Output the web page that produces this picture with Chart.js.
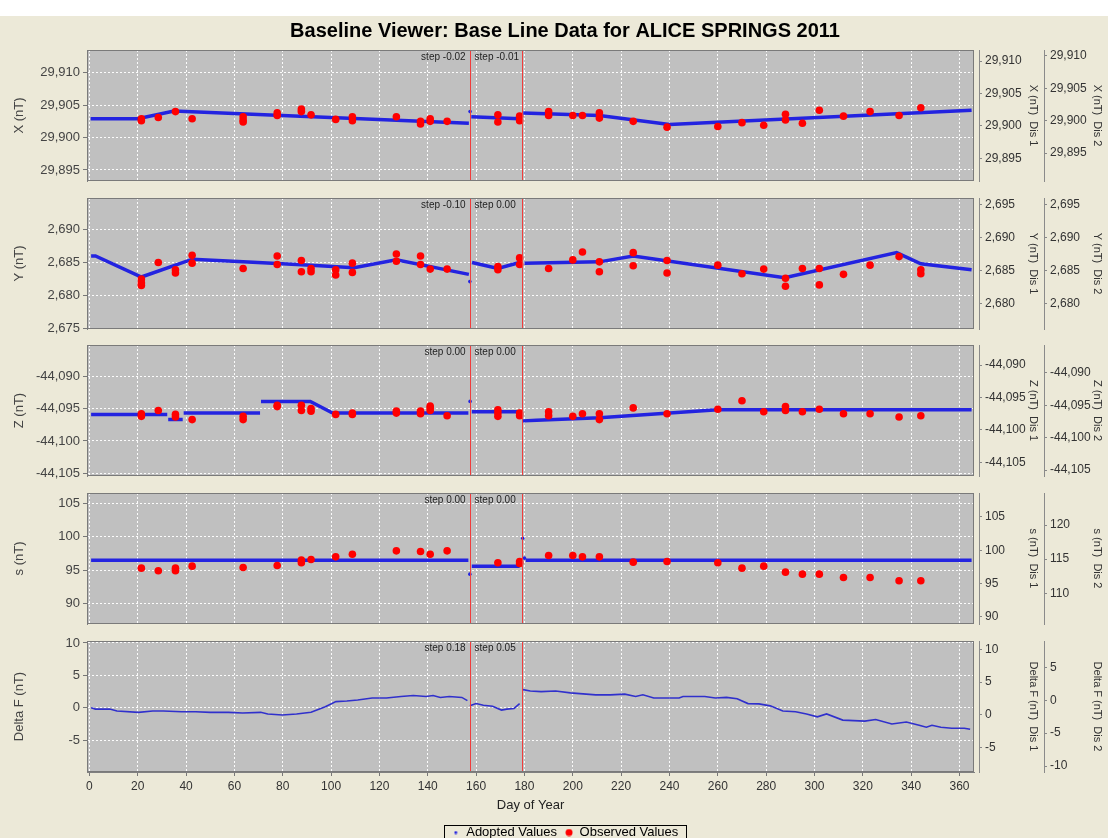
<!DOCTYPE html>
<html>
<head>
<meta charset="utf-8">
<title>Baseline Viewer</title>
<script src="https://cdn.jsdelivr.net/npm/chart.js@4.4.0/dist/chart.umd.min.js"></script>
<style>
  html, body { margin: 0; padding: 0; overflow: hidden; }
  body { width: 1108px; height: 838px; background: #ece9d8; position: relative; }
  #strip { position: absolute; left: 0; top: 0; width: 1108px; height: 16px; background: #fff; }
  canvas { position: absolute; left: 0; }
</style>
</head>
<body>
<div id="strip"></div>
<script>
// ---- data ----
const chartTitle = 'Baseline Viewer: Base Line Data for ALICE SPRINGS 2011';
const breakDays = [157.3, 178.9];
const stepLeft = ['step -0.02', 'step -0.10', 'step 0.00', 'step 0.00', 'step 0.18'];
const stepRight = ['step -0.01', 'step 0.00', 'step 0.00', 'step 0.00', 'step 0.05'];
const axisNames = ['X (nT)', 'Y (nT)', 'Z (nT)', 's (nT)', 'Delta F (nT)'];
const legendNames = ['Adopted Values', 'Observed Values'];

// X
const xAdoptDays = [0.5, 20, 35, 157, 157.2, 158, 178, 178.8, 179.5, 211, 240, 365];
const xAdoptVals = [29902.9, 29902.9, 29904.1, 29902.2, null, 29903.2, 29902.9, null, 29903.8, 29903.4, 29902.0, 29904.2];
const xDotDays = [157.5];
const xDotVals = [29904.0];
const xObsDays = [21.5, 21.5, 28.5, 35.6, 42.5, 63.6, 63.6, 63.6, 77.7, 77.7, 87.7, 87.7, 91.7, 101.9, 108.8, 108.8, 127, 137, 137, 141, 141, 148, 169, 169, 178, 178, 190, 190, 200, 204, 211, 211, 225, 239, 260, 270, 279, 288, 288, 295, 302, 312, 323, 335, 344];
const xObsVals = [29902.9, 29902.6, 29903.1, 29904.0, 29902.9, 29903.2, 29902.7, 29902.4, 29903.8, 29903.4, 29904.4, 29904.0, 29903.5, 29902.8, 29903.2, 29902.6, 29903.2, 29902.5, 29902.1, 29902.9, 29902.5, 29902.5, 29903.5, 29902.4, 29903.3, 29902.6, 29904.0, 29903.4, 29903.4, 29903.4, 29903.8, 29903.0, 29902.5, 29901.6, 29901.7, 29902.3, 29901.9, 29903.6, 29902.7, 29902.2, 29904.2, 29903.3, 29904.0, 29903.4, 29904.6];

// Y
const yAdoptDays = [0.7, 2.5, 21.5, 42.6, 63.6, 91.7, 109.5, 127, 157, 157.5, 158.3, 169, 178, 179, 180, 211, 225, 287.7, 334, 344, 365];
const yAdoptVals = [2686.0, 2686.0, 2682.8, 2685.5, 2685.1, 2684.6, 2684.2, 2685.4, 2683.2, null, 2685.0, 2684.1, 2685.0, null, 2684.9, 2685.1, 2686.0, 2682.7, 2686.5, 2684.8, 2683.9];
const yDotDays = [157.4];
const yDotVals = [2682.1];
const yObsDays = [21.5, 21.5, 21.5, 28.5, 35.6, 35.6, 42.5, 42.5, 63.6, 77.7, 77.7, 87.7, 87.7, 91.7, 91.7, 101.9, 101.9, 108.8, 108.8, 127, 127, 137, 137, 141, 148, 169, 169, 178, 178, 190, 200, 204, 211, 211, 225, 225, 239, 239, 260, 270, 279, 288, 288, 295, 302, 302, 312, 323, 335, 344, 344];
const yObsVals = [2682.5, 2681.9, 2681.5, 2685.0, 2683.9, 2683.4, 2686.1, 2684.9, 2684.1, 2686.0, 2684.7, 2685.3, 2683.6, 2684.1, 2683.6, 2683.9, 2683.1, 2684.9, 2683.5, 2686.3, 2685.2, 2686.0, 2684.7, 2684.0, 2684.0, 2684.4, 2683.9, 2685.7, 2684.7, 2684.1, 2685.4, 2686.6, 2685.1, 2683.6, 2686.5, 2684.5, 2685.3, 2683.4, 2684.6, 2683.3, 2684.0, 2682.6, 2681.4, 2684.1, 2684.1, 2681.6, 2683.2, 2684.6, 2685.9, 2683.9, 2683.3];

// Z
const zAdoptDays = [0.7, 32.2, 32.4, 32.6, 38.6, 38.8, 39, 70.6, 70.8, 71, 91.4, 100.6, 156.8, 157, 158.2, 178, 178.7, 179.4, 185, 211, 260, 365];
const zAdoptVals = [-44095.9, -44095.9, null, -44096.7, -44096.7, null, -44095.7, -44095.7, null, -44093.9, -44093.9, -44095.7, -44095.7, null, -44095.5, -44095.5, null, -44096.9, -44096.8, -44096.4, -44095.2, -44095.2];
const zDotDays = [157.5];
const zDotVals = [-44093.9];
const zObsDays = [21.5, 21.5, 28.5, 35.6, 35.6, 42.5, 63.6, 63.6, 77.7, 77.7, 87.7, 87.7, 91.7, 91.7, 101.9, 108.8, 108.8, 127, 127, 137, 137, 141, 141, 141, 148, 169, 169, 169, 178, 178, 190, 190, 200, 204, 211, 211, 225, 239, 260, 270, 279, 288, 288, 295, 302, 312, 323, 335, 344];
const zObsVals = [-44095.8, -44096.2, -44095.3, -44095.9, -44096.3, -44096.7, -44096.2, -44096.7, -44094.5, -44094.7, -44094.5, -44095.3, -44095.0, -44095.4, -44095.9, -44095.7, -44095.9, -44095.4, -44095.7, -44095.4, -44095.8, -44094.6, -44094.9, -44095.3, -44096.1, -44095.2, -44095.7, -44096.2, -44095.7, -44096.1, -44095.5, -44096.1, -44096.2, -44095.8, -44095.8, -44096.7, -44094.9, -44095.8, -44095.1, -44093.8, -44095.5, -44094.7, -44095.3, -44095.5, -44095.1, -44095.8, -44095.8, -44096.3, -44096.1];

// s
const sAdoptDays = [0.7, 156.8, 157, 158.2, 178, 179, 180.5, 365];
const sAdoptVals = [96.5, 96.5, null, 95.6, 95.6, null, 96.5, 96.5];
const sDotDays = [157.4, 179.3, 180];
const sDotVals = [94.4, 99.8, 96.8];
const sObsDays = [21.5, 28.5, 35.6, 35.6, 42.5, 63.6, 77.7, 87.7, 87.7, 91.7, 101.9, 108.8, 127, 137, 141, 148, 169, 178, 178, 190, 200, 204, 211, 225, 239, 260, 270, 279, 288, 295, 302, 312, 323, 335, 344];
const sObsVals = [95.3, 94.9, 95.3, 94.9, 95.6, 95.4, 95.7, 96.5, 96.1, 96.6, 97.0, 97.4, 97.9, 97.8, 97.4, 97.9, 96.1, 96.3, 96.0, 97.2, 97.2, 97.0, 97.0, 96.2, 96.3, 96.1, 95.3, 95.6, 94.7, 94.4, 94.4, 93.9, 93.9, 93.4, 93.4];

// Delta F
const dfDays = [0.7, 2.5, 8.4, 11.4, 20.3, 26.2, 30.6, 38.1, 44, 50, 57.5, 63.4, 70.9, 73.8, 79.8, 85.7, 91.7, 97.6, 102, 106.5, 111, 117, 122.9, 128.9, 134, 139.3, 142.2, 145.2, 148.9, 154.1, 156.4,
  157, 157.4, 160, 163, 166.8, 170.5, 172.7, 175.7, 178,
  178.8, 179.4, 182.4, 186.9, 192.9, 199, 209.5, 215.5, 221.5, 226, 229, 233.5, 244, 245.6, 254.6, 259, 263.6, 268, 272.5, 277, 281.7, 286.9, 292.2, 296.7, 301.2, 305, 311.7, 320.8, 325.3, 332, 338, 343.3, 346.3, 348.6, 352.3, 356.8, 362, 364.4];
const dfVals = [0.0, -0.2, -0.2, -0.5, -0.7, -0.5, -0.5, -0.6, -0.6, -0.7, -0.7, -0.8, -0.7, -0.95, -1.1, -0.95, -0.7, 0.15, 0.95, 1.05, 1.2, 1.5, 1.5, 1.75, 1.9, 1.75, 1.9, 1.6, 1.75, 1.6, 1.1,
  null, 0.3, 0.65, 0.4, 0.25, -0.35, -0.2, -0.1, 0.65,
  null, 2.8, 2.6, 2.5, 2.6, 2.3, 2.0, 2.0, 2.1, 1.75, 2.0, 1.5, 1.5, 1.75, 1.75, 1.5, 1.6, 1.4, 0.65, 0.6, 0.3, -0.5, -0.6, -0.95, -1.4, -0.95, -1.9, -2.05, -1.8, -2.5, -2.2, -2.7, -3.0, -2.7, -3.0, -3.15, -3.15, -3.3];

// axis ranges (left, Dis 1, Dis 2)
const leftRange = [[29893.3, 29913.5], [2674.9, 2694.8], [-44105.4, -44085.2], [86.9, 106.6], [-9.9, 10.3]];
const dis1Range = [[29891.5, 29911.7], [2676.1, 2696.0], [-44107.1, -44086.9], [88.9, 108.6], [-8.8, 11.3]];
const dis2Range = [[29890.7, 29910.9], [2676.2, 2696.0], [-44105.9, -44085.7], [105.5, 124.7], [-10.9, 9.0]];

// ---- layout ----
const PANEL_TOP = [50, 198, 345, 493, 641];
const PANEL_H = 131;
const W = 1130;
const BLUE = '#2323e0';
const RED = '#ff0000';
const FONT = '"Liberation Sans", Arial, Helvetica, sans-serif';

Chart.defaults.font.family = FONT;
Chart.defaults.color = '#333';

function pts(days, vals) {
  return days.map((d, i) => ({ x: d, y: vals[i] }));
}

function dot(r, color) {
  const c = document.createElement('canvas');
  c.width = c.height = Math.ceil(r * 2) + 1;
  const g = c.getContext('2d');
  g.fillStyle = color;
  g.beginPath();
  g.arc(c.width / 2, c.height / 2, r, 0, Math.PI * 2);
  g.fill();
  return c;
}
const legendMarks = [dot(1.5, BLUE), dot(3.5, RED)];
const legendColors = [BLUE, RED];

const panelDeco = {
  id: 'panelDeco',
  beforeDraw(chart) {
    const a = chart.chartArea, ctx = chart.ctx;
    ctx.save();
    ctx.fillStyle = '#c0c0c0';
    ctx.fillRect(a.left, a.top, a.right - a.left, a.bottom - a.top);
    ctx.restore();
  },
  afterDatasetsDraw(chart, args, opts) {
    const a = chart.chartArea, ctx = chart.ctx, xs = chart.scales.x;
    ctx.save();
    // red break lines
    ctx.strokeStyle = '#f03c3c';
    ctx.lineWidth = 1;
    breakDays.forEach(d => {
      const px = Math.round(xs.getPixelForValue(d)) + 0.5;
      ctx.beginPath();
      ctx.moveTo(px, a.top);
      ctx.lineTo(px, a.bottom);
      ctx.stroke();
    });
    // step labels
    const p0 = xs.getPixelForValue(breakDays[0]);
    ctx.font = '10px ' + FONT;
    ctx.fillStyle = '#222';
    ctx.textBaseline = 'middle';
    ctx.textAlign = 'right';
    ctx.fillText(opts.left, p0 - 4, a.top + 7);
    ctx.textAlign = 'left';
    ctx.fillText(opts.right, p0 + 5, a.top + 7);
    // frame
    ctx.strokeStyle = '#7a7a7a';
    ctx.strokeRect(Math.round(a.left) + 0.5, Math.round(a.top) + 0.5,
      Math.round(a.right - a.left) - 1, Math.round(a.bottom - a.top) - 1);
    ctx.restore();
  },
  afterDraw(chart) {
    const lg = chart.legend;
    if (!lg || !lg.options.display || !lg.legendHitBoxes.length) return;
    const hb = lg.legendHitBoxes;
    const last = hb[hb.length - 1];
    const l = Math.round(hb[0].left - 8), r = Math.round(last.left + last.width + 8);
    const t = Math.round(hb[0].top - 1);
    const ctx = chart.ctx;
    ctx.save();
    ctx.strokeStyle = '#000';
    ctx.lineWidth = 1;
    ctx.strokeRect(l + 0.5, t + 0.5, r - l, 40);
    ctx.restore();
  }
};

function makePanel(i, datasets) {
  const first = i === 0, lastP = i === 4;
  const canvasTop = first ? 16 : PANEL_TOP[i] - 12;
  const height = first ? (PANEL_TOP[0] - 16) + PANEL_H + 12 : (lastP ? 220 : PANEL_H + 24);

  const cv = document.createElement('canvas');
  cv.width = W;
  cv.height = height;
  cv.style.top = canvasTop + 'px';
  document.body.appendChild(cv);

  const gridWhite = { color: 'rgba(255,255,255,0.95)', lineWidth: 1 };

  const xScale = {
    type: 'linear', position: 'bottom', min: -1, max: 366,
    ticks: { display: lastP, stepSize: 20, includeBounds: false, padding: 3, color: '#333', font: { size: 12 } },
    grid: Object.assign({ drawTicks: lastP, tickLength: 4, tickColor: '#777', tickBorderDash: [] }, gridWhite),
    border: { display: lastP, color: '#808080', dash: [2, 2] },
    title: { display: lastP, text: 'Day of Year', color: '#222', font: { size: 13 }, padding: { top: 0, bottom: 5 } }
  };
  if (lastP) xScale.afterFit = s => { s.height = 46; };

  const yLeft = {
    type: 'linear', position: 'left', min: leftRange[i][0], max: leftRange[i][1],
    ticks: { stepSize: 5, includeBounds: false, padding: 3, color: '#444', font: { size: 13 },
      callback: v => v.toLocaleString('en-US') },
    grid: Object.assign({ drawTicks: true, tickLength: 4, tickColor: '#777', tickBorderDash: [] }, gridWhite),
    border: { display: true, color: '#808080', dash: [2, 2] },
    title: { display: true, text: axisNames[i], color: '#444', font: { size: 13 }, padding: { top: 12, bottom: 0 } },
    afterFit: s => { s.width = 87; }
  };

  const spacer = {
    type: 'linear', position: 'right', weight: 0,
    ticks: { display: false }, grid: { display: false }, border: { display: false },
    afterFit: s => { s.width = 5; }
  };

  function rightAxis(range, label, w, titlePad, weight) {
    return {
      type: 'linear', position: 'right', weight: weight, min: range[0], max: range[1],
      ticks: { stepSize: 5, includeBounds: false, padding: 3, color: '#333', font: { size: 12 },
        callback: v => v.toLocaleString('en-US') },
      grid: { drawOnChartArea: false, drawTicks: true, tickLength: 3, tickColor: '#888' },
      border: { display: true, color: '#8a8a8a' },
      title: { display: true, text: label, color: '#333', font: { size: 11 }, padding: { top: titlePad, bottom: 0 } },
      afterFit: s => { s.width = w; }
    };
  }

  return new Chart(cv, {
    type: 'scatter',
    data: { datasets: datasets },
    options: {
      responsive: false,
      animation: false,
      events: [],
      locale: 'en-US',
      layout: { padding: { top: first ? 0 : 12, bottom: lastP ? 0 : 12, left: 0, right: 0 } },
      scales: {
        x: xScale,
        y: yLeft,
        sp: spacer,
        y1: rightAxis(dis1Range[i], axisNames[i] + '  Dis 1', 65, 4, 1),
        y2: rightAxis(dis2Range[i], axisNames[i] + '  Dis 2', 86, 26, 2)
      },
      plugins: {
        title: {
          display: first, text: chartTitle, color: '#000',
          font: { size: 20, weight: 'bold' }, padding: { top: 3, bottom: 7 }
        },
        legend: {
          display: lastP, position: 'bottom', align: 'center',
          labels: {
            usePointStyle: true, boxWidth: 8, boxHeight: 8, padding: 8,
            color: '#000', font: { size: 13 },
            generateLabels: () => legendNames.map((t, k) => ({
              text: t, pointStyle: legendMarks[k], fillStyle: legendColors[k],
              strokeStyle: legendColors[k], lineWidth: 0, hidden: false, datasetIndex: k
            }))
          }
        },
        tooltip: { enabled: false },
        panelDeco: { left: stepLeft[i], right: stepRight[i] }
      }
    },
    plugins: [panelDeco]
  });
}

function adoptedSets(days, vals, dotDays, dotVals, obsDays, obsVals) {
  return [
    { type: 'scatter', label: 'Observed Values', data: pts(obsDays, obsVals), order: 0,
      pointRadius: 3.8, backgroundColor: RED, borderWidth: 0 },
    { type: 'line', label: 'Adopted Values', data: pts(days, vals), order: 1,
      borderColor: BLUE, borderWidth: 3.5, pointRadius: 0, spanGaps: false, tension: 0, fill: false },
    { type: 'scatter', label: 'Adopted', data: pts(dotDays, dotVals), order: 1,
      pointRadius: 1.8, backgroundColor: BLUE, borderWidth: 0 }
  ];
}

makePanel(0, adoptedSets(xAdoptDays, xAdoptVals, xDotDays, xDotVals, xObsDays, xObsVals));
makePanel(1, adoptedSets(yAdoptDays, yAdoptVals, yDotDays, yDotVals, yObsDays, yObsVals));
makePanel(2, adoptedSets(zAdoptDays, zAdoptVals, zDotDays, zDotVals, zObsDays, zObsVals));
makePanel(3, adoptedSets(sAdoptDays, sAdoptVals, sDotDays, sDotVals, sObsDays, sObsVals));
makePanel(4, [
  { type: 'line', label: 'Delta F', data: pts(dfDays, dfVals),
    borderColor: '#3030cc', borderWidth: 1.6, pointRadius: 0, spanGaps: false, tension: 0, fill: false }
]);
</script>
</body>
</html>
